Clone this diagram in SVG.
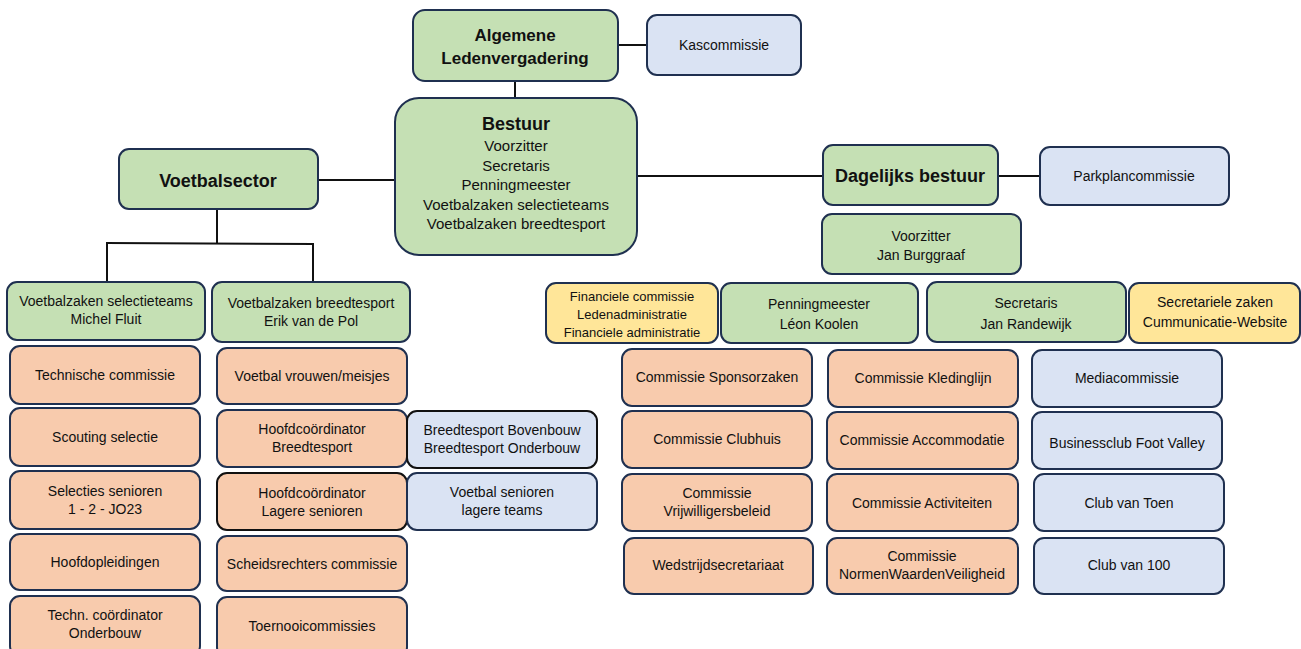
<svg xmlns="http://www.w3.org/2000/svg" width="1301" height="649" viewBox="0 0 1301 649">
<style>
rect{stroke:#1f3050;stroke-width:2}
.g{fill:#c5e0b4}.b{fill:#dae3f3}.o{fill:#f8cbad}.y{fill:#ffe699}
.k{stroke:#111}
text{font-family:"Liberation Sans",Arial,sans-serif;font-size:14px;fill:#111;text-anchor:middle}
.s{font-size:13px}
.m{font-size:15px}
.h{font-weight:bold;font-size:17px}
.h2{font-weight:bold;font-size:18px}
.c line{stroke:#111;stroke-width:2}
</style>
<rect width="1301" height="649" fill="#fff" style="stroke:none"/>
<g class="c" id="connectors">
<line x1="515" y1="81" x2="515" y2="98"/>
<line x1="618" y1="45" x2="647" y2="45"/>
<line x1="318" y1="180" x2="395" y2="180"/>
<line x1="637" y1="176" x2="823" y2="176"/>
<line x1="998" y1="176" x2="1040" y2="176"/>
<line x1="217" y1="209" x2="217" y2="244"/>
<line x1="106" y1="243" x2="314" y2="244"/>
<line x1="107" y1="242" x2="107" y2="282"/>
<line x1="313" y1="243" x2="313" y2="282"/>
</g>
<g id="alv"><rect class="g" x="413" y="10" width="205" height="71" rx="12"/><text class="h" x="515" y="41">Algemene</text><text class="h" x="515" y="64">Ledenvergadering</text></g>
<g id="kascommissie"><rect class="b" x="647" y="15" width="154" height="60" rx="10"/><text x="724" y="50">Kascommissie</text></g>
<g id="bestuur"><rect class="g" x="395" y="98" width="242" height="157" rx="24"/><text class="h2" x="516" y="130">Bestuur</text><text class="m" x="516" y="151">Voorzitter</text><text class="m" x="516" y="171">Secretaris</text><text class="m" x="516" y="190">Penningmeester</text><text class="m" x="516" y="210">Voetbalzaken selectieteams</text><text class="m" x="516" y="229">Voetbalzaken breedtesport</text></g>
<g id="voetbalsector"><rect class="g" x="119" y="149" width="199" height="60" rx="10"/><text class="h2" x="218" y="187">Voetbalsector</text></g>
<g id="dagelijks"><rect class="g" x="823" y="145" width="175" height="60" rx="10"/><text class="h2" x="910" y="182">Dagelijks bestuur</text></g>
<g id="parkplan"><rect class="b" x="1040" y="147" width="189" height="58" rx="10"/><text x="1134" y="181">Parkplancommissie</text></g>
<g id="voorzitter"><rect class="g" x="822" y="214" width="199" height="60" rx="10"/><text x="921" y="241">Voorzitter</text><text x="921" y="260">Jan Burggraaf</text></g>

<g id="vz-selectie"><rect class="g" x="7" y="282" width="198" height="58" rx="10"/><text x="106" y="306">Voetbalzaken selectieteams</text><text x="106" y="324">Michel Fluit</text></g>
<g id="vz-breedte"><rect class="g" x="212" y="282" width="198" height="60" rx="10"/><text x="311" y="308">Voetbalzaken breedtesport</text><text x="311" y="326">Erik van de Pol</text></g>

<g id="technische"><rect class="o" x="10" y="346" width="190" height="58" rx="10"/><text x="105" y="380">Technische commissie</text></g>
<g id="scouting"><rect class="o" x="10" y="408" width="190" height="58" rx="10"/><text x="105" y="442">Scouting selectie</text></g>
<g id="selecties"><rect class="o" x="10" y="471" width="190" height="58" rx="10"/><text x="105" y="496">Selecties senioren</text><text x="105" y="514">1 - 2 - JO23</text></g>
<g id="hoofdopleidingen"><rect class="o" x="10" y="534" width="190" height="56" rx="10"/><text x="105" y="567">Hoofdopleidingen</text></g>
<g id="techn"><rect class="o" x="10" y="596" width="190" height="60" rx="10"/><text x="105" y="620">Techn. coördinator</text><text x="105" y="638">Onderbouw</text></g>

<g id="vrouwen"><rect class="o" x="217" y="348" width="190" height="56" rx="10"/><text x="312" y="381">Voetbal vrouwen/meisjes</text></g>
<g id="hc-breedte"><rect class="o" x="217" y="410" width="190" height="57" rx="10"/><text x="312" y="434">Hoofdcoördinator</text><text x="312" y="452">Breedtesport</text></g>
<g id="hc-lagere"><rect class="o k" x="217" y="473" width="190" height="57" rx="10"/><text x="312" y="498">Hoofdcoördinator</text><text x="312" y="516">Lagere senioren</text></g>
<g id="scheids"><rect class="o" x="217" y="536" width="190" height="55" rx="10"/><text x="312" y="569">Scheidsrechters commissie</text></g>
<g id="toernooi"><rect class="o" x="217" y="597" width="190" height="60" rx="10"/><text x="312" y="631">Toernooicommissies</text></g>

<g id="breedtesport"><rect class="b k" x="407" y="411" width="190" height="57" rx="10"/><text x="502" y="435">Breedtesport Bovenbouw</text><text x="502" y="453">Breedtesport Onderbouw</text></g>
<g id="senioren-lager"><rect class="b" x="407" y="473" width="190" height="57" rx="10"/><text x="502" y="497">Voetbal senioren</text><text x="502" y="515">lagere teams</text></g>

<g id="financiele"><rect class="y" x="546" y="283" width="172" height="60" rx="10"/><text class="s" x="632" y="301">Financiele commissie</text><text class="s" x="632" y="319">Ledenadministratie</text><text class="s" x="632" y="337">Financiele administratie</text></g>
<g id="penningmeester"><rect class="g" x="721" y="283" width="197" height="60" rx="10"/><text x="819" y="309">Penningmeester</text><text x="819" y="329">Léon Koolen</text></g>
<g id="secretaris"><rect class="g" x="927" y="282" width="199" height="60" rx="10"/><text x="1026" y="308">Secretaris</text><text x="1026" y="329">Jan Randewijk</text></g>
<g id="secretariele"><rect class="y" x="1129" y="283" width="171" height="60" rx="10"/><text x="1215" y="307">Secretariele zaken</text><text x="1215" y="327">Cummunicatie-Website</text></g>

<g id="sponsor"><rect class="o" x="622" y="349" width="190" height="57" rx="10"/><text x="717" y="382">Commissie Sponsorzaken</text></g>
<g id="clubhuis"><rect class="o" x="622" y="411" width="190" height="57" rx="10"/><text x="717" y="444">Commissie Clubhuis</text></g>
<g id="vrijwilligers"><rect class="o" x="622" y="474" width="190" height="57" rx="10"/><text x="717" y="498">Commissie</text><text x="717" y="516">Vrijwilligersbeleid</text></g>
<g id="wedstrijd"><rect class="o" x="624" y="538" width="189" height="56" rx="10"/><text x="718" y="570">Wedstrijdsecretariaat</text></g>

<g id="kleding"><rect class="o" x="828" y="350" width="190" height="57" rx="10"/><text x="923" y="383">Commissie Kledinglijn</text></g>
<g id="accommodatie"><rect class="o" x="827" y="412" width="191" height="57" rx="10"/><text x="922" y="445">Commissie Accommodatie</text></g>
<g id="activiteiten"><rect class="o" x="827" y="474" width="191" height="57" rx="10"/><text x="922" y="508">Commissie Activiteiten</text></g>
<g id="normen"><rect class="o" x="827" y="538" width="191" height="56" rx="10"/><text x="922" y="561">Commissie</text><text x="922" y="579">NormenWaardenVeiligheid</text></g>

<g id="media"><rect class="b" x="1032" y="350" width="190" height="57" rx="10"/><text x="1127" y="383">Mediacommissie</text></g>
<g id="business"><rect class="b" x="1032" y="412" width="190" height="57" rx="10"/><text x="1127" y="448">Businessclub Foot Valley</text></g>
<g id="toen"><rect class="b" x="1034" y="474" width="190" height="57" rx="10"/><text x="1129" y="508">Club van Toen</text></g>
<g id="club100"><rect class="b" x="1034" y="538" width="190" height="56" rx="10"/><text x="1129" y="570">Club van 100</text></g>
</svg>
